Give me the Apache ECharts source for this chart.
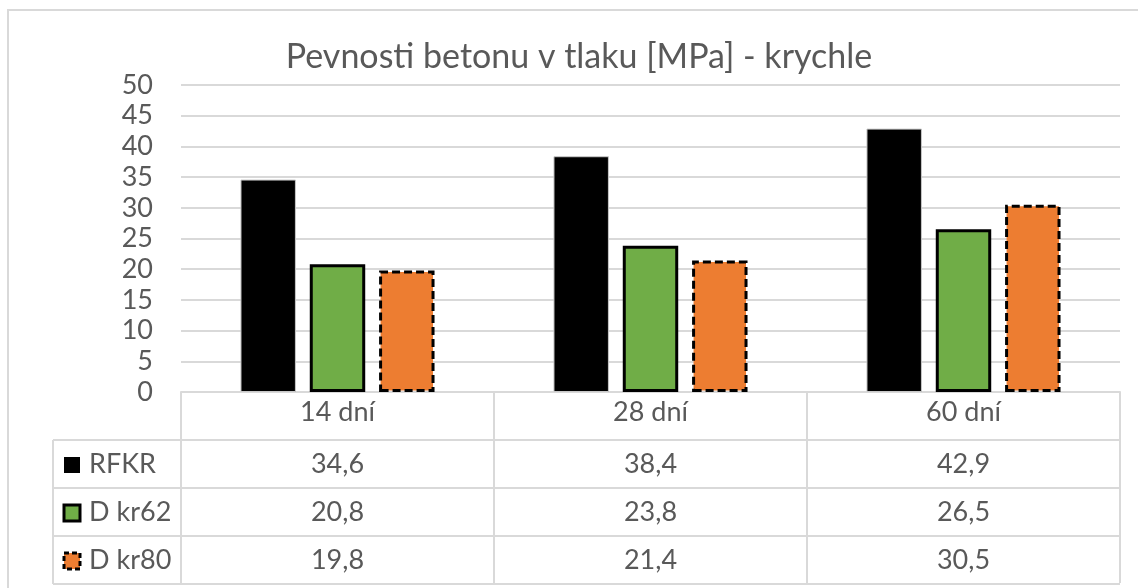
<!DOCTYPE html>
<html>
<head>
<meta charset="utf-8">
<script src="https://cdn.jsdelivr.net/npm/echarts@6/dist/echarts.min.js"></script>
<style>
  html, body { margin: 0; padding: 0; background: #fff; }
  #chart { width: 1138px; height: 588px; }
</style>
</head>
<body>
<div id="chart"></div>
<script>
// Compressive strength of concrete cubes, by curing age
const categories = ['14 dní', '28 dní', '60 dní'];
const seriesNames = ['RFKR', 'D kr62', 'D kr80'];
const rfkr = [34.6, 38.4, 42.9];
const dKr62 = [20.8, 23.8, 26.5];
const dKr80 = [19.8, 21.4, 30.5];
const yTicks = [0, 5, 10, 15, 20, 25, 30, 35, 40, 45, 50];
const titleText = 'Pevnosti betonu v tlaku [MPa] - krychle';

const FONT = 'Lato, "Open Sans", sans-serif';
const TEXT = '#595959';
const LINE = '#d9d9d9';

const seriesValues = [rfkr, dKr62, dKr80];
const seriesStyles = [
  { color: '#000000', borderColor: '#c8c8c8', borderWidth: 1, borderType: 'solid' },
  { color: '#70ad47', borderColor: '#000000', borderWidth: 3, borderType: 'solid' },
  { color: '#ed7d31', borderColor: '#000000', borderWidth: 3, borderType: [8, 4] }
];

const chart = echarts.init(document.getElementById('chart'), null, { renderer: 'canvas' });

const gridLeft = 181, gridRight = 18, gridTop = 85, gridBottom = 196;
const rowH = 48;
const tableFont = 27;

chart.setOption({
  animation: false,
  backgroundColor: '#ffffff',
  grid: { left: gridLeft, right: gridRight, top: gridTop, bottom: gridBottom, containLabel: false },
  xAxis: {
    type: 'category',
    data: categories,
    boundaryGap: true,
    axisLine: { show: true, lineStyle: { color: LINE, width: 2 } },
    axisTick: { show: true, alignWithLabel: false, length: rowH * 4 - 1, lineStyle: { color: LINE, width: 2 } },
    axisLabel: { margin: 7, fontSize: tableFont, color: TEXT, fontFamily: FONT }
  },
  yAxis: {
    type: 'value',
    min: yTicks[0],
    max: yTicks[yTicks.length - 1],
    interval: yTicks[1] - yTicks[0],
    axisLine: { show: false },
    axisTick: { show: false },
    axisLabel: { margin: 28, fontSize: 27, color: TEXT, fontFamily: FONT },
    splitLine: { show: true, lineStyle: { color: LINE, width: 2 } }
  },
  series: seriesNames.map((name, i) => ({
    name: name,
    type: 'bar',
    data: seriesValues[i],
    barGap: '25%',
    barCategoryGap: '38%',
    itemStyle: seriesStyles[i]
  }))
});

// Title, outer frame and the data table beneath the plot
const tableTop = chart.getHeight() - gridBottom;
const tableLeft = 53;
const tableRight = chart.getWidth() - gridRight;
const graphics = [];

graphics.push({
  type: 'rect', silent: true,
  shape: { x: 8, y: 10, width: 1150, height: 600 },
  style: { fill: null, stroke: LINE, lineWidth: 2 }
});
graphics.push({
  type: 'text', silent: true, x: 579, y: 57,
  style: { text: titleText, align: 'center', verticalAlign: 'middle', fontSize: 34, fill: TEXT, fontFamily: FONT }
});

for (let r = 0; r <= seriesNames.length; r++) {
  const y = tableTop + rowH * (r + 1);
  graphics.push({
    type: 'line', silent: true,
    shape: { x1: tableLeft, y1: y, x2: tableRight, y2: y },
    style: { stroke: LINE, lineWidth: 2 }
  });
}
graphics.push({
  type: 'line', silent: true,
  shape: { x1: tableLeft, y1: tableTop + rowH, x2: tableLeft, y2: tableTop + rowH * 4 },
  style: { stroke: LINE, lineWidth: 2 }
});

seriesNames.forEach((name, i) => {
  const cy = tableTop + rowH * (i + 1) + rowH / 2;
  const st = seriesStyles[i];
  const keySize = 16;
  graphics.push({
    type: 'rect', silent: true,
    shape: { x: 64, y: cy - keySize / 2 + 1, width: keySize, height: keySize },
    style: {
      fill: st.color,
      stroke: i === 0 ? null : st.borderColor,
      lineWidth: i === 0 ? 0 : 3,
      lineDash: Array.isArray(st.borderType) ? [5, 3] : null
    }
  });
  graphics.push({
    type: 'text', silent: true, x: 89, y: cy,
    style: { text: name, align: 'left', verticalAlign: 'middle', fontSize: tableFont, fill: TEXT, fontFamily: FONT }
  });
  seriesValues[i].forEach((v, c) => {
    const px = chart.convertToPixel({ xAxisIndex: 0 }, categories[c]);
    graphics.push({
      type: 'text', silent: true, x: px, y: cy,
      style: { text: v.toFixed(1).replace('.', ','), align: 'center', verticalAlign: 'middle', fontSize: tableFont, fill: TEXT, fontFamily: FONT }
    });
  });
});

chart.setOption({ graphic: { elements: graphics } });
</script>
</body>
</html>
